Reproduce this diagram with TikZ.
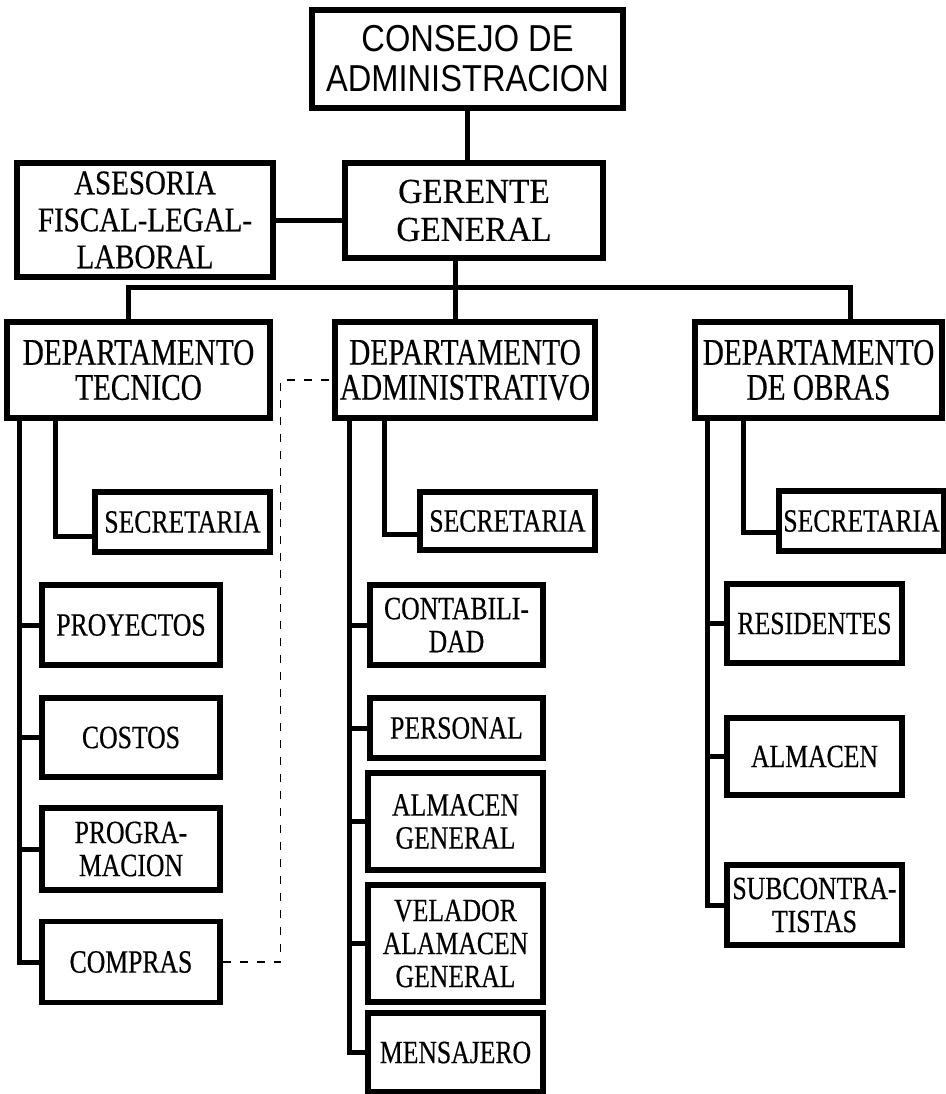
\documentclass[tikz,border=0pt]{standalone}
\usepackage{fontspec}
\setmainfont{Liberation Serif}
\newfontfamily\arialfont[FakeStretch=0.87]{Liberation Sans}
\newfontfamily\gerfont[FakeStretch=0.95,FakeBold=0.4]{Liberation Serif}
\newfontfamily\asesfont[FakeStretch=0.84,FakeBold=0.4]{Liberation Serif}
\newfontfamily\deptfont[FakeStretch=0.78,FakeBold=0.4]{Liberation Serif}
\newfontfamily\unitfont[FakeStretch=0.79,FakeBold=0.4]{Liberation Serif}

\tikzset{
  every picture/.style={line width=5pt},
  box/.style={draw, line width=5.5pt, align=center, inner sep=0pt, fill=white},
  deptbox/.style={box, minimum height=96pt, font=\deptfont\fontsize{37.5}{35}\selectfont},
  unitbox/.style={box, font=\unitfont\fontsize{32.5}{33}\selectfont},
  link/.style={line width=5pt, line cap=rect},
  dashlink/.style={line width=1.5pt, dash pattern=on 8pt off 9pt},
}

\begin{document}
\begin{tikzpicture}[x=1pt,y=1pt,yscale=-1,xscale=1]
\useasboundingbox (0,0) rectangle (945,1094);

% top of the chart
\node [box, font=\arialfont\fontsize{37.5}{40}\selectfont, minimum width=311pt, minimum height=98pt] (consejo) at (467.5,59) {CONSEJO DE\\ADMINISTRACION};
\node [box, font=\gerfont\fontsize{35}{38}\selectfont, minimum width=258pt, minimum height=95pt] (gerente) at (474,210.5) {GERENTE\\GENERAL};
\node [box, font=\asesfont\fontsize{34.5}{37}\selectfont, minimum width=256pt, minimum height=114pt] (asesoria) at (145,220) {ASESORIA\\FISCAL-LEGAL-\\LABORAL};

% departamentos
\node [deptbox, minimum width=263pt] (dtec) at (138.5,370) {DEPARTAMENTO\\TECNICO};
\node [deptbox, minimum width=260pt] (dadm) at (465,370) {DEPARTAMENTO\\ADMINISTRATIVO};
\node [deptbox, minimum width=247pt] (dobr) at (818.5,370) {DEPARTAMENTO\\DE OBRAS};

% tecnico
\node [unitbox, minimum width=175pt, minimum height=60pt] (tsec) at (182.5,522) {SECRETARIA};
\node [unitbox, minimum width=178pt, minimum height=80pt] (proy) at (131,625) {PROYECTOS};
\node [unitbox, minimum width=178pt, minimum height=79pt] (costos) at (131,737.5) {COSTOS};
\node [unitbox, minimum width=178pt, minimum height=82pt] (prog) at (131,849) {PROGRA-\\MACION};
\node [unitbox, minimum width=178pt, minimum height=81pt] (compras) at (131,962) {COMPRAS};

% administrativo
\node [unitbox, minimum width=175pt, minimum height=58pt] (asec) at (507.5,521) {SECRETARIA};
\node [unitbox, minimum width=173pt, minimum height=80pt] (conta) at (456.5,625) {CONTABILI-\\DAD};
\node [unitbox, minimum width=173pt, minimum height=60pt] (personal) at (456.5,728) {PERSONAL};
\node [unitbox, minimum width=175pt, minimum height=97pt] (almgral) at (455.5,821.5) {ALMACEN\\GENERAL};
\node [unitbox, minimum width=175pt, minimum height=117pt] (velador) at (455.5,943.5) {VELADOR\\ALAMACEN\\GENERAL};
\node [unitbox, minimum width=175pt, minimum height=79pt] (mensajero) at (455.5,1052.5) {MENSAJERO};

% obras
\node [unitbox, minimum width=165pt, minimum height=60pt] (osec) at (861.5,521) {SECRETARIA};
\node [unitbox, minimum width=175pt, minimum height=79pt] (resid) at (814.5,623.5) {RESIDENTES};
\node [unitbox, minimum width=175pt, minimum height=77pt] (almacen) at (814.5,756.5) {ALMACEN};
\node [unitbox, minimum width=175pt, minimum height=80pt] (subcon) at (814.5,905) {SUBCONTRA-\\TISTAS};

\coordinate (bus) at (455,287);

% upper connectors
\draw [link] (consejo.south) -- (consejo.south |- gerente.north);
\draw [link] (asesoria.east) -- (asesoria.east -| gerente.west);
\draw [link] ([xshift=-19pt]gerente.south) -- ([xshift=-10pt]dadm.north);
\draw [link] ([xshift=-10.5pt]dtec.north) |- (bus) -| ([xshift=31.5pt]dobr.north);

% tecnico connectors
\draw [link] ([xshift=51pt]dtec.south west) |- ([yshift=14pt]tsec.west);
\draw [link] ([xshift=15pt]dtec.south west) |- (compras.west);
\foreach \n in {proy,costos,prog}
  \draw [link] (\n.west) -- ([xshift=15pt]dtec.south west |- \n.west);

% administrativo connectors
\draw [link] ([xshift=52pt]dadm.south west) |- ([yshift=13pt]asec.west);
\draw [link] ([xshift=17pt]dadm.south west) |- (mensajero.west);
\foreach \n in {conta,personal,almgral,velador}
  \draw [link] (\n.west) -- ([xshift=17pt]dadm.south west |- \n.west);

% obras connectors
\draw [link] ([xshift=51pt]dobr.south west) |- ([yshift=11pt]osec.west);
\draw [link] ([xshift=15pt]dobr.south west) |- (subcon.west);
\foreach \n in {resid,almacen}
  \draw [link] (\n.west) -- ([xshift=15pt]dobr.south west |- \n.west);

% compras -- administrativo
\draw [dashlink] (compras.east) -| ([xshift=-52pt,yshift=10pt]dadm.west) -- ([yshift=10pt]dadm.west);

\end{tikzpicture}
\end{document}
